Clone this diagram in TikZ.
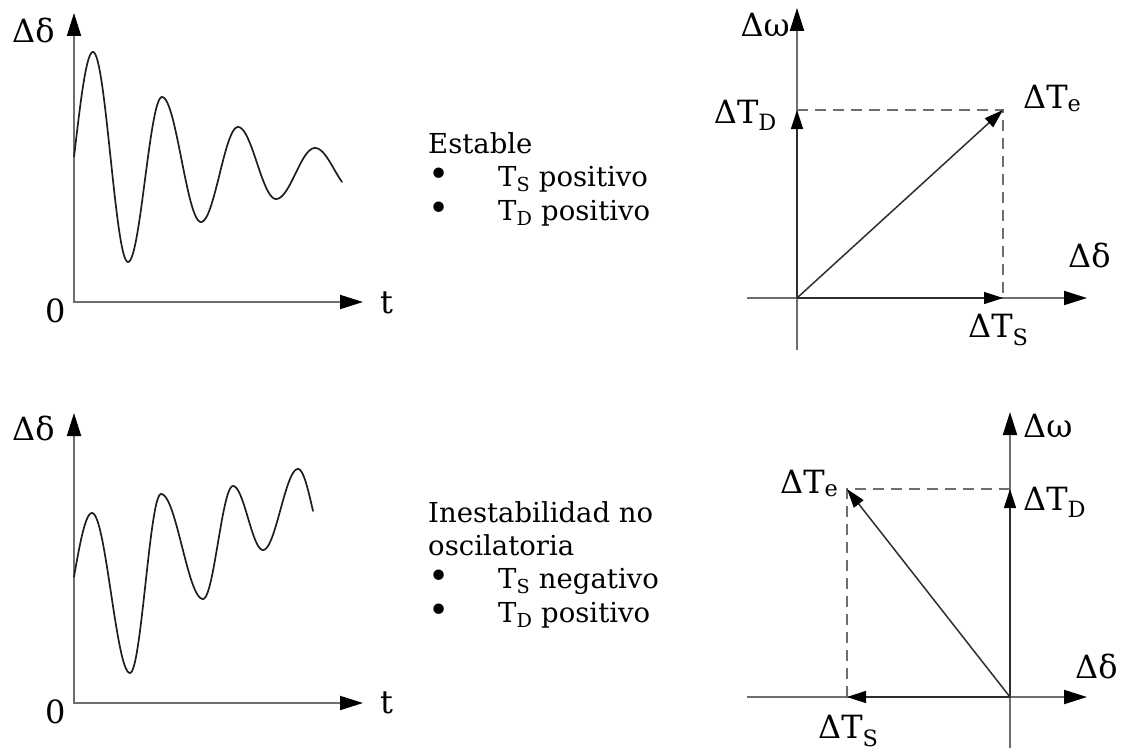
\documentclass[tikz,border=0pt]{standalone}
\usepackage{fontspec}
\setmainfont{DejaVu Serif}[FakeStretch=1.0]
\usepackage{tikz}
\usetikzlibrary{arrows.meta}
\definecolor{axc}{HTML}{6E6E6E}
\definecolor{crvc}{HTML}{1E1E1E}
\definecolor{vecc}{HTML}{2E2E2E}
\tikzset{
  bigtip/.tip={Triangle[length=23pt,width=14pt,color=black]},
  smtip/.tip={Triangle[length=19pt,width=12pt,color=black]},
  ax/.style={draw=axc,line width=2pt},
  vc/.style={draw=vecc,line width=1.5pt,-smtip},
  pj/.style={draw=axc,line width=1.8pt,dash pattern=on 11pt off 7pt},
  crv/.style={crvc,line width=1.7pt,line cap=round},
  lb/.style={font=\fontsize{32}{37}\selectfont,inner sep=0pt,anchor=base west},
  tx/.style={font=\fontsize{27.5}{33}\selectfont,inner sep=0pt,anchor=base west}
}
\newcommand{\bul}{\makebox[70pt][l]{\raisebox{0pt}[0pt][0pt]{\scalebox{1.3}{•}}}}

\begin{document}
\begin{tikzpicture}[x=1pt,y=-1pt]
\useasboundingbox (0,0) rectangle (1126,752);

\coordinate (oA) at (74,302);
\coordinate (yA) at (74,13);
\coordinate (xA) at (363,302);
\draw[ax,bigtip-bigtip] (yA) -- (oA) -- (xA);
\node[lb] (dA) at (12,43) {Δδ};
\node[lb] (zA) at (45,322) {0};
\node[lb] (tA) at (380,313) {t};
\foreach \xa/\ya/\xb/\yb/\ta/\tb in {56/254/93/52/88/180,93/52/128/262/0/180,128/262/162/97/0/180,
  162/97/201/222/0/180,201/222/238/127/0/180,238/127/276/199/0/180,276/199/315/148/0/180,315/148/353/190/0/128}
  \draw[crv] plot[variable=\t,domain=\ta:\tb,samples=30,smooth] ({\xa+(\xb-\xa)*\t/180},{\ya+(\yb-\ya)*(1-cos(\t))/2});

\coordinate (oB) at (74,703);
\coordinate (yB) at (74,413);
\coordinate (xB) at (363,703);
\draw[ax,bigtip-bigtip] (yB) -- (oB) -- (xB);
\node[lb] (dB) at (12,440) {Δδ};
\node[lb] (zB) at (45,723) {0};
\node[lb] (tB) at (380,713) {t};
\foreach \xa/\ya/\xb/\yb/\ta/\tb in {54/652/92/513/94.7/180,92/513/130/673/0/180,130/673/161/494/0/180,
  161/494/203/599/0/180,203/599/233/486/0/180,233/486/263/550/0/180,263/550/298/469/0/180,298/469/328/553/0/90}
  \draw[crv] plot[variable=\t,domain=\ta:\tb,samples=30,smooth] ({\xa+(\xb-\xa)*\t/180},{\ya+(\yb-\ya)*(1-cos(\t))/2});

\node[tx] (est) at (428,153) {Estable};
\node[tx] (estS) at (428,186) {\bul T\textsubscript{S} positivo};
\node[tx] (estD) at (428,220) {\bul T\textsubscript{D} positivo};
\node[tx] (ine) at (428,522) {Inestabilidad no};
\node[tx] (osc) at (428,555) {oscilatoria};
\node[tx] (ineS) at (428,588) {\bul T\textsubscript{S} negativo};
\node[tx] (ineD) at (428,622) {\bul T\textsubscript{D} positivo};

\coordinate (pA) at (797,298);
\coordinate (lA) at (747,298);
\coordinate (rA) at (1087,298);
\coordinate (bA) at (797,350);
\coordinate (uA) at (797,8);
\coordinate (teA) at (1003,110);
\coordinate (tdA) at (797,110);
\coordinate (tsA) at (1003,298);
\draw[ax,-bigtip] (lA) -- (rA);
\draw[ax,-bigtip] (bA) -- (uA);
\draw[pj] (tdA) -- (teA) -- (tsA);
\draw[vc] (pA) -- (tdA);
\draw[vc] (pA) -- (tsA);
\draw[vc] (pA) -- (teA);
\node[lb,anchor=base east] (wA) at (790,37) {Δω};
\node[lb,anchor=base east] (ldA) at (777,123) {ΔT\textsubscript{D}};
\node[lb] (leA) at (1023,108) {ΔT\textsubscript{e}};
\node[lb] (ddA) at (1068,267) {Δδ};
\node[lb] (lsA) at (968,337) {ΔT\textsubscript{S}};

\coordinate (pB) at (1010,697);
\coordinate (lB) at (747,697);
\coordinate (rB) at (1087,697);
\coordinate (bB) at (1010,748);
\coordinate (uB) at (1010,412);
\coordinate (teB) at (847,489);
\coordinate (tdB) at (1010,489);
\coordinate (tsB) at (847,697);
\draw[ax,-bigtip] (lB) -- (rB);
\draw[ax,-bigtip] (bB) -- (uB);
\draw[pj] (tdB) -- (teB) -- (tsB);
\draw[vc] (pB) -- (tdB);
\draw[vc] (pB) -- (tsB);
\draw[vc] (pB) -- (teB);
\node[lb] (wB) at (1023,437) {Δω};
\node[lb] (ldB) at (1023,510) {ΔT\textsubscript{D}};
\node[lb] (leB) at (780,493) {ΔT\textsubscript{e}};
\node[lb] (ddB) at (1075,678) {Δδ};
\node[lb] (lsB) at (818,738) {ΔT\textsubscript{S}};
\end{tikzpicture}
\end{document}
